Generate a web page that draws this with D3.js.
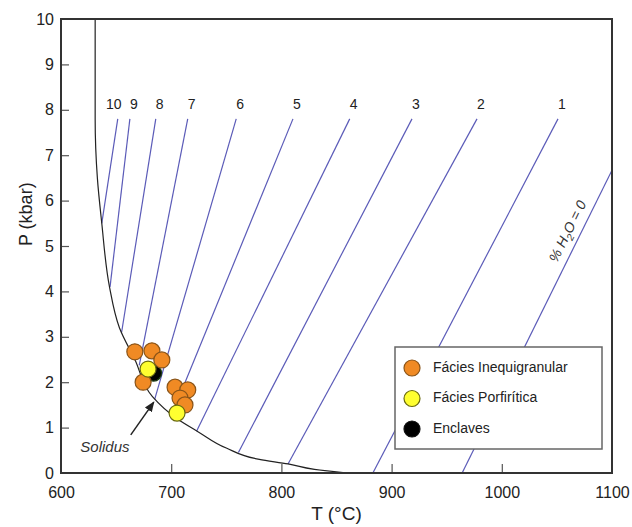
<!DOCTYPE html>
<html>
<head>
<meta charset="utf-8">
<script src="https://cdn.jsdelivr.net/npm/d3@7"></script>
<style>
  html, body { margin: 0; padding: 0; background: #fff; }
  svg { display: block; font-family: "Liberation Sans", Arial, sans-serif; }
</style>
</head>
<body>
<svg id="chart" width="632" height="527"></svg>
<script>
// ---- data ----
const xTicks = [600, 700, 800, 900, 1000, 1100];
const yTicks = [0, 1, 2, 3, 4, 5, 6, 7, 8, 9, 10];

// solidus curve (T °C, P kbar)
const solidusT = [631, 631, 633, 637, 644, 653, 667, 683, 705, 725, 750, 780, 806, 830, 860];
const solidusP = [10, 7.8, 6.5, 5.5, 4.1, 3.2, 2.5, 1.68, 1.2, 0.9, 0.55, 0.3, 0.2, 0.08, 0];

// H2O isopleths (wt% H2O), top and bottom points
const isoLabels = ["10", "9", "8", "7", "6", "5", "4", "3", "2", "1"];
const isoTopT   = [651.5, 662.5, 686, 715, 759, 810.5, 862, 918.5, 977.5, 1051];
const isoTopP   = [7.8, 7.8, 7.8, 7.8, 7.8, 7.8, 7.8, 7.8, 7.8, 7.8];
const isoBotT   = [637, 644.5, 655, 671, 685, 700, 723, 761, 806, 883];
const isoBotP   = [5.5, 4.1, 3.1, 2.37, 1.62, 1.25, 0.92, 0.45, 0.2, 0];

// %H2O = 0 line
const dryT = [964, 1100];
const dryP = [0, 6.67];

// samples
const inequiT = [667, 682.5, 691.5, 674.5, 703.5, 715, 708, 712.5];
const inequiP = [2.67, 2.69, 2.49, 2.0, 1.89, 1.83, 1.65, 1.5];
const porfT = [679, 705.3];
const porfP = [2.29, 1.32];
const enclT = [684];
const enclP = [2.2];

const legendLabels = ["Fácies Inequigranular", "Fácies Porfirítica", "Enclaves"];

// ---- chart ----
const svg = d3.select("#chart");
const margin = {left: 61, right: 20, top: 19, bottom: 54};
const W = 632, H = 527;
const x = d3.scaleLinear().domain([600, 1100]).range([margin.left, W - margin.right]);
const y = d3.scaleLinear().domain([0, 10]).range([H - margin.bottom, margin.top]);

const isoColor = "#5b5bb8";
const axisColor = "#333";

const clipId = "plotclip";
svg.append("clipPath").attr("id", clipId).append("rect")
  .attr("x", x(600)).attr("y", y(10)).attr("width", x(1100) - x(600)).attr("height", y(0) - y(10));

const plot = svg.append("g").attr("clip-path", `url(#${clipId})`);
const line = d3.line().x(d => x(d[0])).y(d => y(d[1]));

// isopleths
isoLabels.forEach((lab, i) => {
  plot.append("path")
    .attr("d", line([[isoTopT[i], isoTopP[i]], [isoBotT[i], isoBotP[i]]]))
    .attr("fill", "none").attr("stroke", isoColor).attr("stroke-width", 1.2);
  svg.append("text")
    .attr("x", x(isoTopT[i]) + (i === 0 ? -4 : 4))
    .attr("y", y(isoTopP[i]) - 10)
    .attr("text-anchor", "middle")
    .attr("font-size", 14).attr("fill", "#222")
    .text(lab);
});

// dry line
plot.append("path")
  .attr("d", line(dryT.map((t, i) => [t, dryP[i]])))
  .attr("fill", "none").attr("stroke", isoColor).attr("stroke-width", 1.2);

// solidus
plot.append("path")
  .attr("d", d3.line().x(d => x(d[0])).y(d => y(d[1])).curve(d3.curveMonotoneY)(solidusT.map((t, i) => [t, solidusP[i]])))
  .attr("fill", "none").attr("stroke", "#222").attr("stroke-width", 1.2);

// %H2O = 0 label
{
  const p1 = [x(dryT[0]), y(dryP[0])], p2 = [x(dryT[1]), y(dryP[1])];
  const ang = Math.atan2(p2[1] - p1[1], p2[0] - p1[0]) * 180 / Math.PI;
  const len = Math.hypot(p2[0] - p1[0], p2[1] - p1[1]);
  const ux = (p2[0] - p1[0]) / len, uy = (p2[1] - p1[1]) / len;
  const tP = 5.2;
  const tT = dryT[0] + (dryT[1] - dryT[0]) * tP / dryP[1];
  const cx = x(tT) + uy * 8, cy = y(tP) - ux * 8;
  const t = svg.append("text")
    .attr("transform", `translate(${cx},${cy}) rotate(${ang})`)
    .attr("text-anchor", "middle")
    .attr("font-size", 14).attr("font-style", "italic").attr("fill", "#333");
  t.append("tspan").text("% H");
  t.append("tspan").attr("font-size", 10).attr("dy", 4).text("2");
  t.append("tspan").attr("dy", -4).text("O = 0");
}

// points
function drawPts(ts, ps, fill, stroke) {
  plot.selectAll(null).data(ts.map((t, i) => [t, ps[i]])).enter().append("circle")
    .attr("cx", d => x(d[0])).attr("cy", d => y(d[1])).attr("r", 8)
    .attr("fill", fill).attr("stroke", stroke).attr("stroke-width", 1.2);
}
drawPts(enclT, enclP, "#000", "#1a3a10");
drawPts(inequiT, inequiP, "#f08a24", "#8a5418");
drawPts(porfT, porfP, "#ffff30", "#6a6a10");

// Solidus annotation
svg.append("defs").append("marker").attr("id", "arr")
  .attr("viewBox", "0 0 10 10").attr("refX", 9).attr("refY", 5)
  .attr("markerWidth", 7).attr("markerHeight", 7).attr("orient", "auto")
  .append("path").attr("d", "M0,1 L10,5 L0,9 Z").attr("fill", "#222");
svg.append("line")
  .attr("x1", x(663.3)).attr("y1", y(0.84)).attr("x2", x(684.2)).attr("y2", y(1.56))
  .attr("stroke", "#222").attr("stroke-width", 1.5).attr("marker-end", "url(#arr)");
svg.append("text").attr("x", x(617.5)).attr("y", y(0.46))
  .attr("font-size", 15).attr("font-style", "italic").attr("fill", "#333").text("Solidus");

// axes (ticks inward)
const xAxis = d3.axisBottom(x).tickValues(xTicks).tickSize(-9).tickPadding(14).tickFormat(d3.format("d"));
const yAxis = d3.axisLeft(y).tickValues(yTicks).tickSize(-8).tickPadding(7).tickFormat(d3.format("d"));
const gx = svg.append("g").attr("transform", `translate(0,${y(0)})`).call(xAxis);
const gy = svg.append("g").attr("transform", `translate(${x(600)},0)`).call(yAxis);
[gx, gy].forEach(g => {
  g.select(".domain").remove();
  g.selectAll(".tick line").attr("stroke", "#555").attr("stroke-width", 1.2);
  g.selectAll(".tick text").attr("font-size", 16).attr("fill", "#222")
    .attr("font-family", "'Liberation Sans', Arial, sans-serif");
});
gy.selectAll(".tick").filter(d => d === 0 || d === 10).select("line").remove();
gx.selectAll(".tick").filter(d => d === 600 || d === 1100).select("line").remove();

// frame
svg.append("rect")
  .attr("x", x(600)).attr("y", y(10)).attr("width", x(1100) - x(600)).attr("height", y(0) - y(10))
  .attr("fill", "none").attr("stroke", axisColor).attr("stroke-width", 2);

// axis titles
svg.append("text").attr("x", (x(600) + x(1100)) / 2).attr("y", 520)
  .attr("text-anchor", "middle").attr("font-size", 19).attr("fill", "#222").text("T (°C)");
svg.append("text").attr("transform", `translate(27,${y(5.7)}) rotate(-90)`)
  .attr("text-anchor", "middle").attr("dominant-baseline", "middle")
  .attr("font-size", 18).attr("fill", "#222").text("P (kbar)");

// legend
const lg = svg.append("g");
lg.append("rect").attr("x", 395).attr("y", 347).attr("width", 207).attr("height", 102)
  .attr("fill", "#fff").attr("stroke", "#666").attr("stroke-width", 1.5);
const legFill = ["#f08a24", "#ffff30", "#000"];
const legStroke = ["#8a5418", "#6a6a10", "#111"];
legendLabels.forEach((lab, i) => {
  const cy = 368 + i * 30.5;
  lg.append("circle").attr("cx", 412).attr("cy", cy).attr("r", 8)
    .attr("fill", legFill[i]).attr("stroke", legStroke[i]).attr("stroke-width", 1.2);
  lg.append("text").attr("x", 433).attr("y", cy).attr("dominant-baseline", "middle")
    .attr("font-size", 14).attr("fill", "#222").text(lab);
});
</script>
</body>
</html>
